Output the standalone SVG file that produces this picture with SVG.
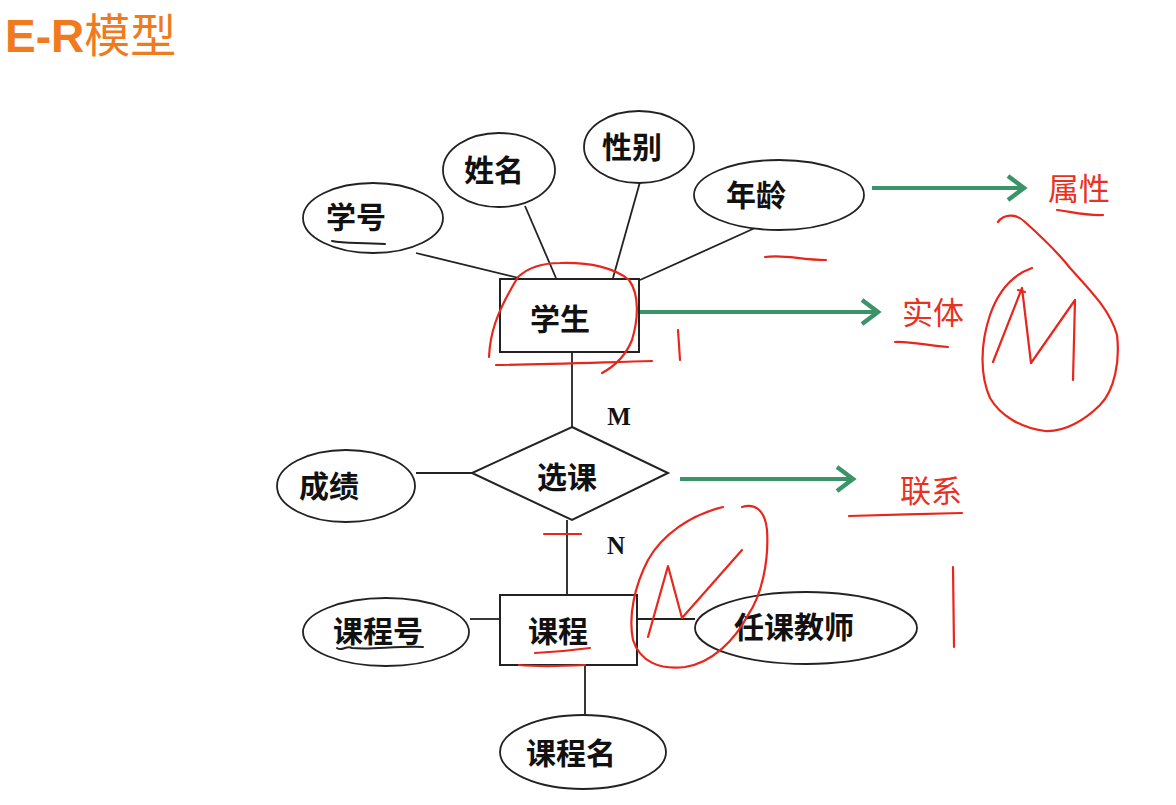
<svg xmlns="http://www.w3.org/2000/svg" width="1176" height="805" viewBox="0 0 1176 805">
<style>
.ent{fill:#fff;stroke:#222;stroke-width:2}
.att{fill:#fff;stroke:#222;stroke-width:1.8}
.ln{stroke:#222;stroke-width:1.8;fill:none}
.lbl{font-family:"Noto Sans CJK SC",sans-serif;font-weight:700;font-size:30px;fill:#111;text-anchor:middle;dominant-baseline:central}
.card{font-family:"Liberation Serif",serif;font-weight:700;font-size:25px;fill:#111;text-anchor:middle;dominant-baseline:central}
.note{font-family:"Noto Sans CJK SC",sans-serif;font-weight:400;font-size:31px;fill:#e8321f;text-anchor:middle;dominant-baseline:central}
.grn{stroke:#3b9468;stroke-width:4;fill:none;marker-end:url(#ah)}
.red{stroke:#e8261c;stroke-width:2.2;fill:none;stroke-linecap:round;stroke-linejoin:round}
.ink{stroke:#222;stroke-width:2;fill:none;stroke-linecap:round}
</style>
<defs>
<marker id="ah" markerWidth="8" markerHeight="8" refX="5" refY="4" orient="auto" markerUnits="strokeWidth">
<polyline points="1,1 5,4 1,7" fill="none" stroke="#3b9468" stroke-width="1.1"/>
</marker>
</defs>
<rect width="1176" height="805" fill="#fff"/>
<text x="5" y="52" font-family="Liberation Sans,sans-serif" font-weight="700" font-size="46" fill="#f07a1e">E-R<tspan font-family="Noto Sans CJK SC,sans-serif" font-weight="400">模型</tspan></text>

<g id="connectors">
<line class="ln" x1="416" y1="253" x2="519" y2="278"/>
<line class="ln" x1="525" y1="206" x2="556" y2="278"/>
<line class="ln" x1="640" y1="182" x2="613" y2="278"/>
<line class="ln" x1="755" y1="228" x2="640" y2="280"/>
<line class="ln" x1="572" y1="352" x2="572" y2="427"/>
<line class="ln" x1="416" y1="473" x2="472" y2="473"/>
<line class="ln" x1="567" y1="520" x2="567" y2="595"/>
<line class="ln" x1="470" y1="619" x2="500" y2="619"/>
<line class="ln" x1="637" y1="619" x2="695" y2="619"/>
<line class="ln" x1="585" y1="665" x2="585" y2="715"/>
<text class="card" x="619" y="416">M</text>
<text class="card" x="616" y="545">N</text>
</g>

<g id="student"><rect class="ent" x="500" y="279" width="139" height="73"/><text class="lbl" x="560" y="317">学生</text></g>
<g id="xuehao"><ellipse class="att" cx="373" cy="218" rx="70" ry="35"/><text class="lbl" x="356" y="215">学号</text></g>
<g id="xingming"><ellipse class="att" cx="499" cy="170" rx="56" ry="37"/><text class="lbl" x="494" y="168">姓名</text></g>
<g id="xingbie"><ellipse class="att" cx="639" cy="147" rx="55" ry="36"/><text class="lbl" x="632" y="145">性别</text></g>
<g id="nianling"><ellipse class="att" cx="779" cy="195" rx="85" ry="35"/><text class="lbl" x="756" y="193">年龄</text></g>
<g id="xuanke"><polygon class="ent" points="572,427 668,473 572,520 472,473"/><text class="lbl" x="567" y="475">选课</text></g>
<g id="chengji"><ellipse class="att" cx="346" cy="486" rx="69" ry="36"/><text class="lbl" x="329" y="484">成绩</text></g>
<g id="course"><rect class="ent" x="500" y="595" width="137" height="70"/><text class="lbl" x="558" y="629">课程</text></g>
<g id="kechenghao"><ellipse class="att" cx="386" cy="632" rx="83" ry="34"/><text class="lbl" x="378" y="629">课程号</text></g>
<g id="teacher"><ellipse class="att" cx="806" cy="628" rx="111" ry="36"/><text class="lbl" x="794" y="625">任课教师</text></g>
<g id="kechengming"><ellipse class="att" cx="583" cy="752" rx="83" ry="37"/><text class="lbl" x="571" y="751">课程名</text></g>

<g id="legend">
<line class="grn" x1="872" y1="188" x2="1024" y2="188"/>
<line class="grn" x1="640" y1="312" x2="878" y2="312"/>
<line class="grn" x1="680" y1="479" x2="853" y2="479"/>
<text class="note" x="1079" y="186">属性</text>
<text class="note" x="933" y="310">实体</text>
<text class="note" x="931" y="488">联系</text>
</g>

<g id="annotations">
<path class="ink" d="M332,241 C345,244 360,242 385,244"/>
<path class="ink" d="M337,648 C342,652 346,645 352,648 C370,650 395,646 423,647"/>
<path class="red" d="M489,357 C490,335 495,315 518,277 C530,266 545,263 560,263 C590,262 615,268 629,280 C640,295 638,320 632,340 C626,355 615,366 602,373"/>
<path class="red" d="M496,365 C560,364 610,362 652,361"/>
<path class="red" d="M678,330 L680,360"/>
<path class="red" d="M765,257 C785,254 800,260 826,260"/>
<path class="red" d="M1057,210 C1072,212 1088,216 1103,215"/>
<path class="red" d="M895,342 C910,341 930,346 948,347"/>
<path class="red" d="M998,222 C1003,215 1015,212 1025,222 C1045,240 1060,255 1070,268 C1090,290 1110,310 1117,335 C1120,360 1115,390 1100,405 C1085,420 1065,432 1045,431 C1020,428 1000,415 990,398 C980,375 980,345 990,315 C998,292 1012,275 1032,268"/>
<path class="red" d="M993,362 L1022,288 L1031,363 L1075,300 L1073,380"/>
<path class="red" d="M1018,290 L1025,292"/>
<path class="red" d="M849,516 C880,515 930,514 962,513"/>
<path class="red" d="M953,567 L954,647"/>
<path class="red" d="M544,534 L581,534"/>
<path class="red" d="M742,507 C755,503 765,510 767,530 C769,560 762,595 748,615 C735,640 712,663 685,667 C660,670 640,662 633,640 C628,615 635,585 648,560 C662,535 690,515 723,507"/>
<path class="red" d="M648,637 L668,566 L682,618 L742,550"/>
<path class="red" d="M535,653 C555,652 575,650 590,648"/>
<path class="red" d="M519,665 C540,667 565,666 585,665"/>
</g>
</svg>
